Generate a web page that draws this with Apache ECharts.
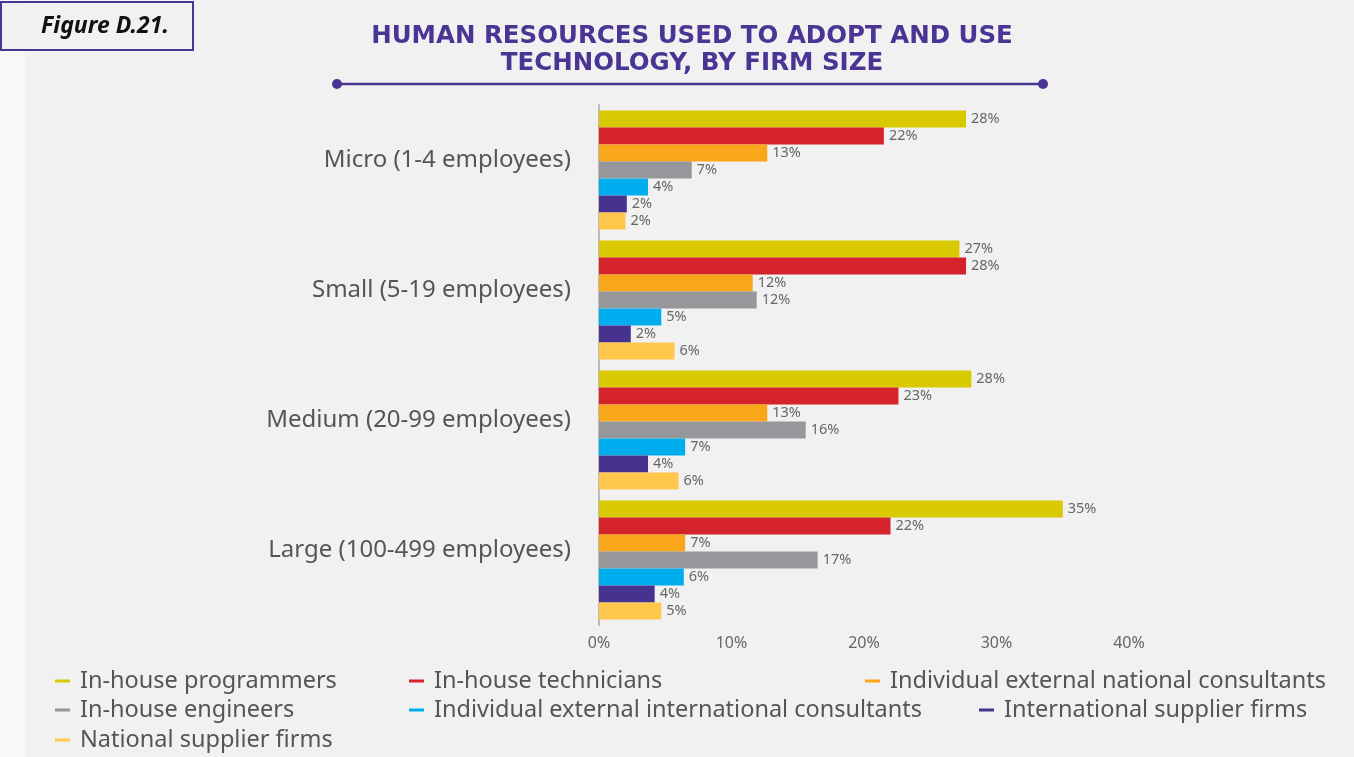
<!DOCTYPE html>
<html><head><meta charset="utf-8">
<script src="https://cdn.jsdelivr.net/npm/echarts@6/dist/echarts.min.js"></script>
<style>html,body{margin:0;padding:0;background:#f1f1f1;}#c{width:1354px;height:757px;}</style>
</head><body><div id="c"></div>
<script>
const categories = ['Micro (1-4 employees)', 'Small (5-19 employees)', 'Medium (20-99 employees)', 'Large (100-499 employees)'];
const seriesNames = ['In-house programmers', 'In-house technicians', 'Individual external national consultants', 'In-house engineers', 'Individual external international consultants', 'International supplier firms', 'National supplier firms'];
const inhouseProgrammers = [27.7, 27.2, 28.1, 35.0];
const inhouseTechnicians = [21.5, 27.7, 22.6, 22.0];
const extNationalConsultants = [12.7, 11.6, 12.7, 6.5];
const inhouseEngineers = [7.0, 11.9, 15.6, 16.5];
const extInternationalConsultants = [3.7, 4.7, 6.5, 6.4];
const internationalSupplierFirms = [2.1, 2.4, 3.7, 4.2];
const nationalSupplierFirms = [2.0, 5.7, 6.0, 4.7];
const xTicks = [0, 10, 20, 30, 40];

const seriesData = [inhouseProgrammers, inhouseTechnicians, extNationalConsultants, inhouseEngineers, extInternationalConsultants, internationalSupplierFirms, nationalSupplierFirms];
const colors = ['#d8c900', '#d4232b', '#f9a61a', '#96979b', '#00aeef', '#47338f', '#ffc84a'];
const FONT = 'Noto Sans';

const legendPos = [
  [55, 669], [409, 669], [865, 669],
  [55, 698], [409, 698], [979, 698],
  [55, 728]
];

const chart = echarts.init(document.getElementById('c'));
chart.setOption({
  backgroundColor: '#f1f1f1',
  animation: false,
  color: colors,
  title: {
    text: 'HUMAN RESOURCES USED TO ADOPT AND USE\nTECHNOLOGY, BY FIRM SIZE',
    left: 687, top: 18, textAlign: 'center',
    textStyle: { color: '#4a3594', fontFamily: 'DejaVu Sans', fontWeight: 'bold', fontSize: 24.5, lineHeight: 27 }
  },
  graphic: [
    { type: 'rect', shape: { x: 0, y: 0, width: 25, height: 757 }, style: { fill: '#f8f8f8' }, z: -1 },
    { type: 'rect', shape: { x: 1, y: 2, width: 192, height: 48 }, style: { fill: '#f1f1f1', stroke: '#4a3594', lineWidth: 2 } },
    { type: 'text', x: 105, y: 26, style: { text: 'Figure D.21.', fill: '#111', font: 'italic bold 23px "Noto Sans"', align: 'center', verticalAlign: 'middle' } },
    { type: 'line', shape: { x1: 337, y1: 84, x2: 1043, y2: 84 }, style: { stroke: '#4a3594', lineWidth: 2.5 } },
    { type: 'circle', shape: { cx: 337, cy: 84, r: 5 }, style: { fill: '#4a3594' } },
    { type: 'circle', shape: { cx: 1043, cy: 84, r: 5 }, style: { fill: '#4a3594' } }
  ],
  legend: seriesNames.map((n, i) => ({
    data: [n], left: legendPos[i][0], top: legendPos[i][1],
    icon: 'rect', itemWidth: 15, itemHeight: 3, padding: 0,
    textStyle: { color: '#555', fontFamily: FONT, fontSize: 23.5, padding: [0, 0, 0, 5] }
  })),
  grid: { left: 599, right: 225, top: 105, height: 520, containLabel: false },
  xAxis: {
    type: 'value', min: 0, max: 40, interval: 10,
    axisLine: { show: false }, axisTick: { show: false }, splitLine: { show: false },
    axisLabel: { formatter: '{value}%', color: '#666', fontFamily: FONT, fontSize: 16, margin: 10 }
  },
  yAxis: {
    type: 'category', data: categories, inverse: true,
    axisLine: { show: true, lineStyle: { color: '#bbb', width: 2 } },
    axisTick: { show: false },
    axisLabel: { color: '#555', fontFamily: FONT, fontSize: 24, margin: 28, verticalAlign: 'bottom', lineHeight: 19 }
  },
  series: seriesNames.map((n, i) => ({
    name: n, type: 'bar', data: seriesData[i], barWidth: 17, barGap: '0%',
    label: { show: true, position: 'right', distance: 5, color: '#666', fontFamily: FONT, fontSize: 14.5,
      formatter: p => Math.round(p.value) + '%' }
  }))
});
</script></body></html>
